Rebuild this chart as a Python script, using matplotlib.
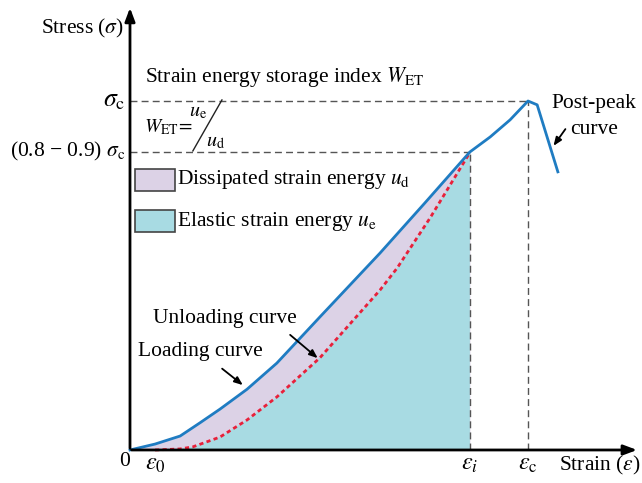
import matplotlib
matplotlib.use("Agg")
import matplotlib.pyplot as plt
from matplotlib.patches import Rectangle

plt.rcParams['font.family'] = ['Liberation Serif', 'DejaVu Serif']
plt.rcParams['mathtext.fontset'] = 'stix'

# normalised strain / stress (peak at eps_c = 1, sigma_c = 1)
load_eps = [0.0, 0.063, 0.126, 0.176, 0.226, 0.294, 0.369, 0.477, 0.628, 0.741, 0.854,
            0.905, 0.955, 1.0, 1.023, 1.075]
load_sig = [0.0, 0.017, 0.040, 0.078, 0.117, 0.174, 0.249, 0.381, 0.564, 0.708, 0.854,
            0.897, 0.946, 1.0, 0.989, 0.797]
unload_eps = [0.063, 0.126, 0.158, 0.226, 0.294, 0.369, 0.477, 0.628, 0.671, 0.754, 0.850]
unload_sig = [0.0, 0.003, 0.009, 0.037, 0.086, 0.152, 0.264, 0.458, 0.521, 0.665, 0.845]
eps_0, eps_i, eps_c = 0.063, 0.854, 1.0
sig_i, sig_c = 0.854, 1.0

blue = '#1f7cc2'
red = '#e8203a'
purple = '#dcd2e6'
cyan = '#a8dbe3'
fs = 15.5

fig = plt.figure(figsize=(6.42, 4.83), dpi=100)
ax = fig.add_axes([0, 0, 1, 1])
ax.set_xlim(-0.3266, 1.2864)
ax.set_ylim(-0.0946, 1.2894)
ax.axis('off')

# energy areas
n_i = load_eps.index(eps_i)
ax.fill_between(load_eps[:n_i + 1], load_sig[:n_i + 1], 0, color=purple, lw=0)
cx = unload_eps + [eps_i, eps_i, eps_0]
cy = unload_sig + [unload_sig[-1], 0, 0]
ax.fill(cx, cy, color=cyan, lw=0)

# guide lines
dash = dict(color='#555555', lw=1.0, ls=(0, (5, 3)))
ax.plot([0, eps_c], [sig_c, sig_c], **dash)
ax.plot([0, eps_i], [sig_i, sig_i], **dash)
ax.plot([eps_c, eps_c], [0, sig_c], **dash)
ax.plot([eps_i, eps_i], [0, sig_i], **dash)

# curves
ax.plot(unload_eps, unload_sig, color=red, lw=2.0, ls=(0, (1.5, 1.2)))
ax.plot(load_eps, load_sig, color=blue, lw=2.0)

# axes with arrows
ax.annotate('', xy=(1.281, 0), xytext=(-0.003, 0),
            arrowprops=dict(arrowstyle='-|>,head_length=0.8,head_width=0.3', lw=2.0, color='black'))
ax.annotate('', xy=(0, 1.275), xytext=(0, -0.003),
            arrowprops=dict(arrowstyle='-|>,head_length=0.8,head_width=0.3', lw=2.0, color='black'))

# axis texts
ax.text(-0.015, 1.209, r'Stress ($\sigma$)', fontsize=fs, ha='right', va='center')
ax.text(1.18, -0.043, r'Strain ($\varepsilon$)', fontsize=fs, ha='center', va='center')
ax.text(-0.012, sig_c, r'$\sigma_{\rm c}$', fontsize=fs + 3, ha='right', va='center')
ax.text(-0.012, sig_i, r'(0.8 − 0.9) $\sigma_{\rm c}$', fontsize=fs, ha='right', va='center')
ax.text(-0.013, -0.034, '0', fontsize=fs, ha='center', va='center')
ax.text(eps_0, -0.043, r'$\varepsilon_0$', fontsize=fs + 2, ha='center', va='center')
ax.text(eps_i, -0.043, r'$\varepsilon_i$', fontsize=fs + 2, ha='center', va='center')
ax.text(eps_c, -0.043, r'$\varepsilon_{\rm c}$', fontsize=fs + 2, ha='center', va='center')

# storage index
ax.text(0.038, 1.069, r'Strain energy storage index $W_{\rm ET}$', fontsize=fs, ha='left', va='center')
ax.text(0.036, 0.925, r'$W_{\rm ET}\!=\!$', fontsize=fs - 1.5, ha='left', va='center')
ax.text(0.172, 0.968, r'$u_{\rm e}$', fontsize=fs - 1, ha='center', va='center')
ax.text(0.214, 0.882, r'$u_{\rm d}$', fontsize=fs - 1, ha='center', va='center')
ax.plot([0.231, 0.158], [1.003, 0.857], color='#222222', lw=1.0)

# legend boxes
ax.add_patch(Rectangle((0.0126, 0.742), 0.1, 0.063, fc=purple, ec='#444444', lw=1.2))
ax.add_patch(Rectangle((0.0126, 0.625), 0.1, 0.063, fc=cyan, ec='#444444', lw=1.2))
ax.text(0.118, 0.774, r'Dissipated strain energy $u_{\rm d}$', fontsize=fs, ha='left', va='center')
ax.text(0.118, 0.655, r'Elastic strain energy $u_{\rm e}$', fontsize=fs, ha='left', va='center')

# curve labels
arr = dict(arrowstyle='-|>,head_length=0.5,head_width=0.2', lw=1.3, color='black')
ax.text(0.239, 0.378, 'Unloading curve', fontsize=fs, ha='center', va='center')
ax.text(0.176, 0.281, 'Loading curve', fontsize=fs, ha='center', va='center')
ax.annotate('', xy=(0.289, 0.181), xytext=(0.226, 0.238), arrowprops=arr)
ax.annotate('', xy=(0.477, 0.258), xytext=(0.397, 0.335), arrowprops=arr)
ax.text(1.165, 0.994, 'Post-peak', fontsize=fs, ha='center', va='center')
ax.text(1.165, 0.917, 'curve', fontsize=fs, ha='center', va='center')
ax.annotate('', xy=(1.060, 0.865), xytext=(1.098, 0.926), arrowprops=arr)

fig.savefig('out.png', dpi=100)
